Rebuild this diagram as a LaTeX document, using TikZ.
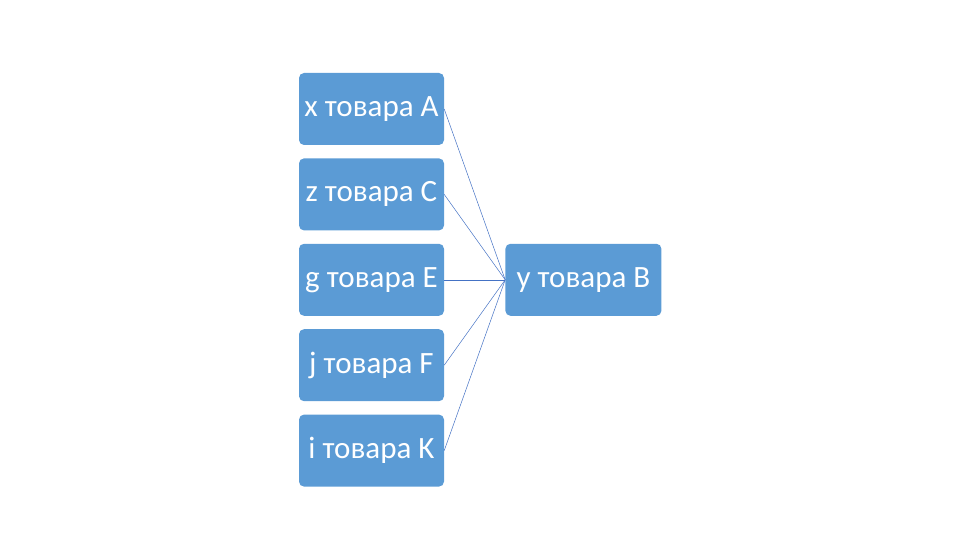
\documentclass[tikz,border=0pt]{standalone}
\usepackage{fontspec}
\setmainfont{Carlito}
\usetikzlibrary{positioning}

\begin{document}
\begin{tikzpicture}[node distance=13pt]
\tikzstyle{every node}=[font=\fontsize{31}{36}\selectfont]
\tikzstyle{tovar}=[draw=none, fill={rgb,255:red,91;green,155;blue,213}, text=white, rounded corners=5pt, minimum width=145pt, minimum height=72pt, inner sep=0pt]
\tikzstyle{link}=[draw={rgb,255:red,68;green,114;blue,196}, line width=0.5pt]
\path[use as bounding box] (0,0) rectangle (960pt,540pt);
\path node[tovar] (xa) at (371.5pt,431pt) {x товара A};
\path node[tovar, below =of xa] (zc) {z товара C};
\path node[tovar, below =of zc] (ge) {g товара E};
\path node[tovar, below =of ge] (jf) {j товара F};
\path node[tovar, below =of jf] (ik) {i товара K};
\path node[tovar, minimum width=156pt, right =61pt of ge] (yb) {y товара B};
% связи
\path[link] (xa.east) edge (yb.west);
\path[link] (zc.east) edge (yb.west);
\path[link] (ge.east) edge (yb.west);
\path[link] (jf.east) edge (yb.west);
\path[link] (ik.east) edge (yb.west);
\end{tikzpicture}
\end{document}
